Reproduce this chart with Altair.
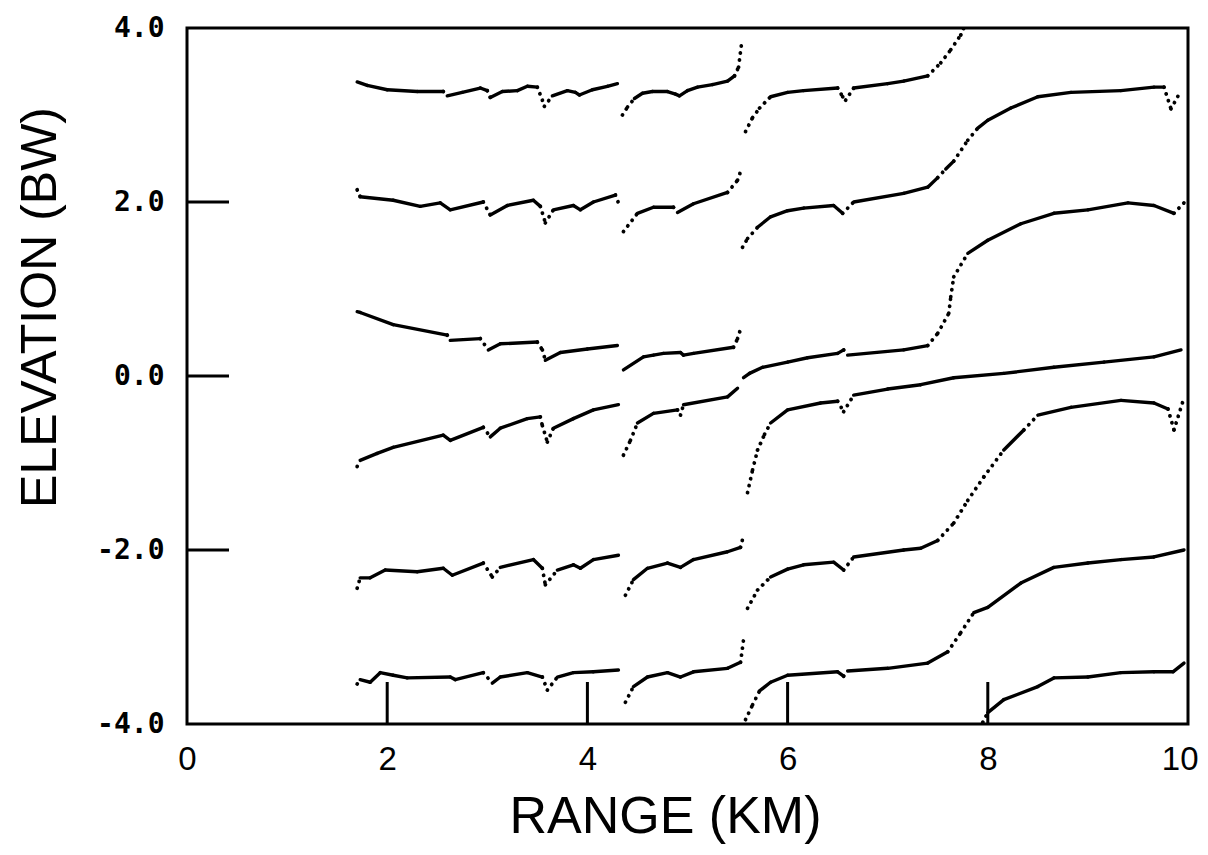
import altair as alt
import pandas as pd

# ---- data (range km, elevation BW) ----
A_LEFT = [(1.70, 3.38), (1.80, 3.34), (2.00, 3.29), (2.30, 3.27), (2.56, 3.27), (2.60, 3.22),
          (2.75, 3.26), (2.93, 3.31), (3.00, 3.28), (3.03, 3.20), (3.15, 3.27), (3.30, 3.28),
          (3.40, 3.33), (3.50, 3.32), (3.55, 3.17), (3.57, 3.10), (3.65, 3.22), (3.80, 3.28),
          (3.88, 3.26), (3.92, 3.23), (4.05, 3.29), (4.20, 3.33), (4.30, 3.36)]
A_MID = [(4.35, 3.00), (4.40, 3.09), (4.47, 3.19), (4.55, 3.25), (4.65, 3.27), (4.80, 3.27),
         (4.88, 3.24), (4.92, 3.22), (5.00, 3.28), (5.10, 3.32), (5.25, 3.35), (5.40, 3.39),
         (5.47, 3.45), (5.51, 3.55), (5.54, 3.82)]
A_RIGHT = [(5.58, 2.81), (5.65, 2.97), (5.72, 3.08), (5.83, 3.21), (6.00, 3.26), (6.16, 3.28),
           (6.50, 3.31), (6.55, 3.21), (6.58, 3.17), (6.66, 3.31), (7.00, 3.36), (7.16, 3.39),
           (7.40, 3.45), (7.53, 3.60), (7.63, 3.75), (7.73, 3.92), (7.76, 4.00)]

B_LEFT = [(1.70, 2.14), (1.73, 2.06), (2.06, 2.02), (2.33, 1.95), (2.53, 1.99), (2.63, 1.91),
          (2.96, 2.00), (3.03, 1.85), (3.20, 1.96), (3.46, 2.02), (3.53, 1.95), (3.58, 1.76),
          (3.66, 1.91), (3.86, 1.96), (3.93, 1.91), (4.06, 2.00), (4.28, 2.08), (4.31, 1.99)]
B_MID = [(4.36, 1.66), (4.50, 1.87), (4.66, 1.94), (4.86, 1.94), (4.90, 1.88), (5.06, 1.98),
         (5.40, 2.11), (5.50, 2.25), (5.53, 2.35)]
B_RIGHT = [(5.55, 1.48), (5.60, 1.58), (5.70, 1.71), (5.83, 1.83), (6.00, 1.90), (6.16, 1.93),
           (6.46, 1.96), (6.55, 1.87), (6.66, 2.00), (7.16, 2.10), (7.40, 2.17), (7.50, 2.28),
           (7.58, 2.38), (7.66, 2.47), (7.80, 2.71), (7.90, 2.85), (8.00, 2.94), (8.23, 3.08),
           (8.50, 3.21), (8.83, 3.26), (9.33, 3.28), (9.66, 3.32), (9.76, 3.32), (9.83, 3.07),
           (9.93, 3.28)]

C_LEFT = [(1.70, 0.74), (1.73, 0.73), (2.06, 0.59), (2.60, 0.47), (2.63, 0.41), (2.93, 0.43),
          (3.01, 0.30), (3.13, 0.37), (3.50, 0.39), (3.55, 0.30), (3.58, 0.18), (3.73, 0.27),
          (4.00, 0.31), (4.30, 0.35)]
C_MID = [(4.36, 0.07), (4.56, 0.22), (4.66, 0.24), (4.76, 0.26), (4.93, 0.27), (4.96, 0.24),
         (5.06, 0.26), (5.46, 0.33), (5.50, 0.43), (5.53, 0.54)]
C_RIGHT = [(5.56, -0.02), (5.62, 0.03), (5.75, 0.10), (6.00, 0.16), (6.20, 0.21), (6.50, 0.26),
           (6.56, 0.30), (6.60, 0.24), (7.16, 0.30), (7.40, 0.35), (7.50, 0.49), (7.61, 0.72),
           (7.63, 0.91), (7.66, 1.14), (7.80, 1.41), (8.00, 1.56), (8.33, 1.75), (8.66, 1.87),
           (9.00, 1.91), (9.40, 1.99), (9.66, 1.96), (9.86, 1.87), (9.96, 1.99)]

D_LEFT = [(1.70, -1.04), (1.73, -0.97), (1.90, -0.89), (2.06, -0.82), (2.56, -0.68), (2.63, -0.74),
          (2.96, -0.59), (3.03, -0.70), (3.13, -0.60), (3.40, -0.49), (3.53, -0.47), (3.55, -0.57),
          (3.60, -0.76), (3.66, -0.60), (3.86, -0.49), (4.06, -0.39), (4.31, -0.33)]
D_MID = [(4.36, -0.91), (4.43, -0.74), (4.50, -0.54), (4.66, -0.43), (4.90, -0.39), (4.93, -0.45),
         (4.96, -0.33), (5.40, -0.24), (5.50, -0.14)]
D_RIGHT = [(5.60, -1.34), (5.65, -1.08), (5.70, -0.85), (5.77, -0.67), (5.83, -0.54), (6.00, -0.39),
           (6.33, -0.31), (6.50, -0.29), (6.56, -0.41), (6.66, -0.22), (7.00, -0.15), (7.33, -0.10),
           (7.66, -0.02), (8.16, 0.03), (8.66, 0.10), (9.16, 0.16), (9.66, 0.22), (9.93, 0.30)]

E_LEFT = [(1.70, -2.44), (1.73, -2.32), (1.83, -2.32), (1.98, -2.23), (2.30, -2.25), (2.56, -2.21),
          (2.65, -2.29), (2.96, -2.15), (3.05, -2.31), (3.13, -2.20), (3.46, -2.11), (3.55, -2.21),
          (3.58, -2.40), (3.70, -2.23), (3.86, -2.17), (3.93, -2.21), (4.06, -2.11), (4.31, -2.06)]
E_MID = [(4.38, -2.52), (4.46, -2.34), (4.60, -2.21), (4.80, -2.15), (4.93, -2.20), (5.06, -2.11),
         (5.40, -2.02), (5.53, -1.97), (5.56, -1.83)]
E_RIGHT = [(5.60, -2.67), (5.70, -2.46), (5.83, -2.31), (6.00, -2.22), (6.16, -2.17), (6.46, -2.14),
           (6.56, -2.23), (6.66, -2.08), (7.16, -2.00), (7.33, -1.98), (7.50, -1.89), (7.66, -1.69),
           (7.80, -1.43), (7.96, -1.16), (8.16, -0.85), (8.36, -0.62), (8.50, -0.45), (8.83, -0.36),
           (9.33, -0.28), (9.66, -0.31), (9.80, -0.38), (9.86, -0.62), (9.96, -0.25)]

F_LEFT = [(1.70, -3.54), (1.73, -3.49), (1.83, -3.52), (1.93, -3.41), (2.06, -3.44), (2.20, -3.47),
          (2.63, -3.46), (2.68, -3.49), (2.96, -3.41), (3.05, -3.53), (3.13, -3.46), (3.40, -3.41),
          (3.55, -3.46), (3.60, -3.61), (3.70, -3.46), (3.86, -3.41), (4.06, -3.40), (4.31, -3.38)]
F_MID = [(4.38, -3.75), (4.46, -3.57), (4.60, -3.46), (4.80, -3.41), (4.93, -3.46), (5.06, -3.40),
         (5.40, -3.36), (5.53, -3.29), (5.56, -3.03)]
F_RIGHT = [(5.58, -3.95), (5.65, -3.78), (5.72, -3.62), (5.83, -3.52), (6.00, -3.44), (6.50, -3.40),
           (6.56, -3.45), (6.60, -3.39), (7.00, -3.36), (7.40, -3.30), (7.60, -3.17), (7.73, -2.95),
           (7.86, -2.72), (8.00, -2.66), (8.33, -2.38), (8.66, -2.20), (9.00, -2.15), (9.33, -2.11),
           (9.66, -2.08), (9.96, -2.00)]

G_RIGHT = [(7.95, -3.98), (8.00, -3.87), (8.16, -3.72), (8.50, -3.57), (8.66, -3.47), (9.00, -3.46),
           (9.33, -3.41), (9.66, -3.40), (9.85, -3.40), (9.96, -3.30)]

X_TICKS = [2, 4, 6, 8]
Y_TICKS = [-2, 0, 2]
X_LABELS = [0, 2, 4, 6, 8, 10]
Y_LABELS = [-4, -2, 0, 2, 4]

SEGMENTS = {
    "A1": A_LEFT, "A2": A_MID, "A3": A_RIGHT,
    "B1": B_LEFT, "B2": B_MID, "B3": B_RIGHT,
    "C1": C_LEFT, "C2": C_MID, "C3": C_RIGHT,
    "D1": D_LEFT, "D2": D_MID, "D3": D_RIGHT,
    "E1": E_LEFT, "E2": E_MID, "E3": E_RIGHT,
    "F1": F_LEFT, "F2": F_MID, "F3": F_RIGHT,
    "G3": G_RIGHT,
}

W, H = 1001, 696
rows = []
for name, pts in SEGMENTS.items():
    for (x0, y0), (x1, y1) in zip(pts[:-1], pts[1:]):
        steep = abs((y1 - y0) / 8.0 * H) > 1.0 * abs((x1 - x0) / 10.0 * W)
        rows.append(dict(seg=name, x=x0, y=y0, x2=x1, y2=y1, steep=steep))
df = pd.DataFrame(rows)

xs = alt.Scale(domain=[0, 10], nice=False, zero=False)
ys = alt.Scale(domain=[-4, 4], nice=False, zero=False)

xaxis = alt.Axis(values=X_LABELS, title="RANGE (KM)", ticks=False, domain=False, grid=False,
                 labelFont="Liberation Sans Narrow, Liberation Sans, Arial, sans-serif",
                 labelFontSize=33, labelPadding=19,
                 labelColor="black", labelFlush=False, format="d",
                 labelAlign={"condition": {"test": "datum.value == 10", "value": "right"},
                             "value": "center"},
                 labelOffset={"condition": {"test": "datum.value == 10", "value": 10},
                              "value": 0},
                 titleFont="Liberation Sans, Arial, sans-serif", titleFontSize=52,
                 titleFontWeight="normal",
                 titleColor="black", titleX=478, titleY=108, titleBaseline="alphabetic",
                 titleAlign="center")
yaxis = alt.Axis(values=Y_LABELS, title="ELEVATION (BW)", ticks=False, domain=False, grid=False,
                 labelFont="DejaVu Sans Mono, monospace", labelFontSize=28, labelFontWeight="bold",
                 labelPadding=23, labelColor="black", labelFlush=False,
                 labelExpr="(datum.value < 0 ? '-' : '') + format(abs(datum.value), '.1f')",
                 titleFont="Liberation Sans, Arial, sans-serif", titleFontSize=50,
                 titleFontWeight="normal",
                 titleColor="black", titleX=-132, titleY=279, titleBaseline="alphabetic",
                 titleAlign="center", titleAngle=-90)

solid = alt.Chart(df[~df.steep]).mark_rule(
    strokeWidth=3.4, strokeCap="round", color="black", clip=True
).encode(
    x=alt.X("x:Q", scale=xs, axis=xaxis), y=alt.Y("y:Q", scale=ys, axis=yaxis),
    x2="x2:Q", y2="y2:Q")

dotted = alt.Chart(df[df.steep]).mark_rule(
    strokeWidth=3.8, strokeCap="round", strokeDash=[0.1, 7], color="black", clip=True
).encode(
    x=alt.X("x:Q", scale=xs, axis=xaxis), y=alt.Y("y:Q", scale=ys, axis=yaxis),
    x2="x2:Q", y2="y2:Q")

xt = alt.Chart(pd.DataFrame({"x": X_TICKS})).mark_rule(strokeWidth=3, color="black").encode(
    x=alt.X("x:Q", scale=xs, axis=xaxis), y=alt.value(H), y2=alt.value(H - 42))
yt = alt.Chart(pd.DataFrame({"y": Y_TICKS})).mark_rule(strokeWidth=3, color="black").encode(
    y=alt.Y("y:Q", scale=ys, axis=yaxis), x=alt.value(0), x2=alt.value(42))

chart = alt.layer(solid, dotted, xt, yt).properties(
    width=W, height=H,
    autosize=alt.AutoSizeParams(type="none"),
    padding={"left": 179, "top": 20, "right": 12, "bottom": 120},
    background="white",
).configure_view(stroke="black", strokeWidth=3)

chart.save("out.html", embed_options={"renderer": "svg", "actions": False})
